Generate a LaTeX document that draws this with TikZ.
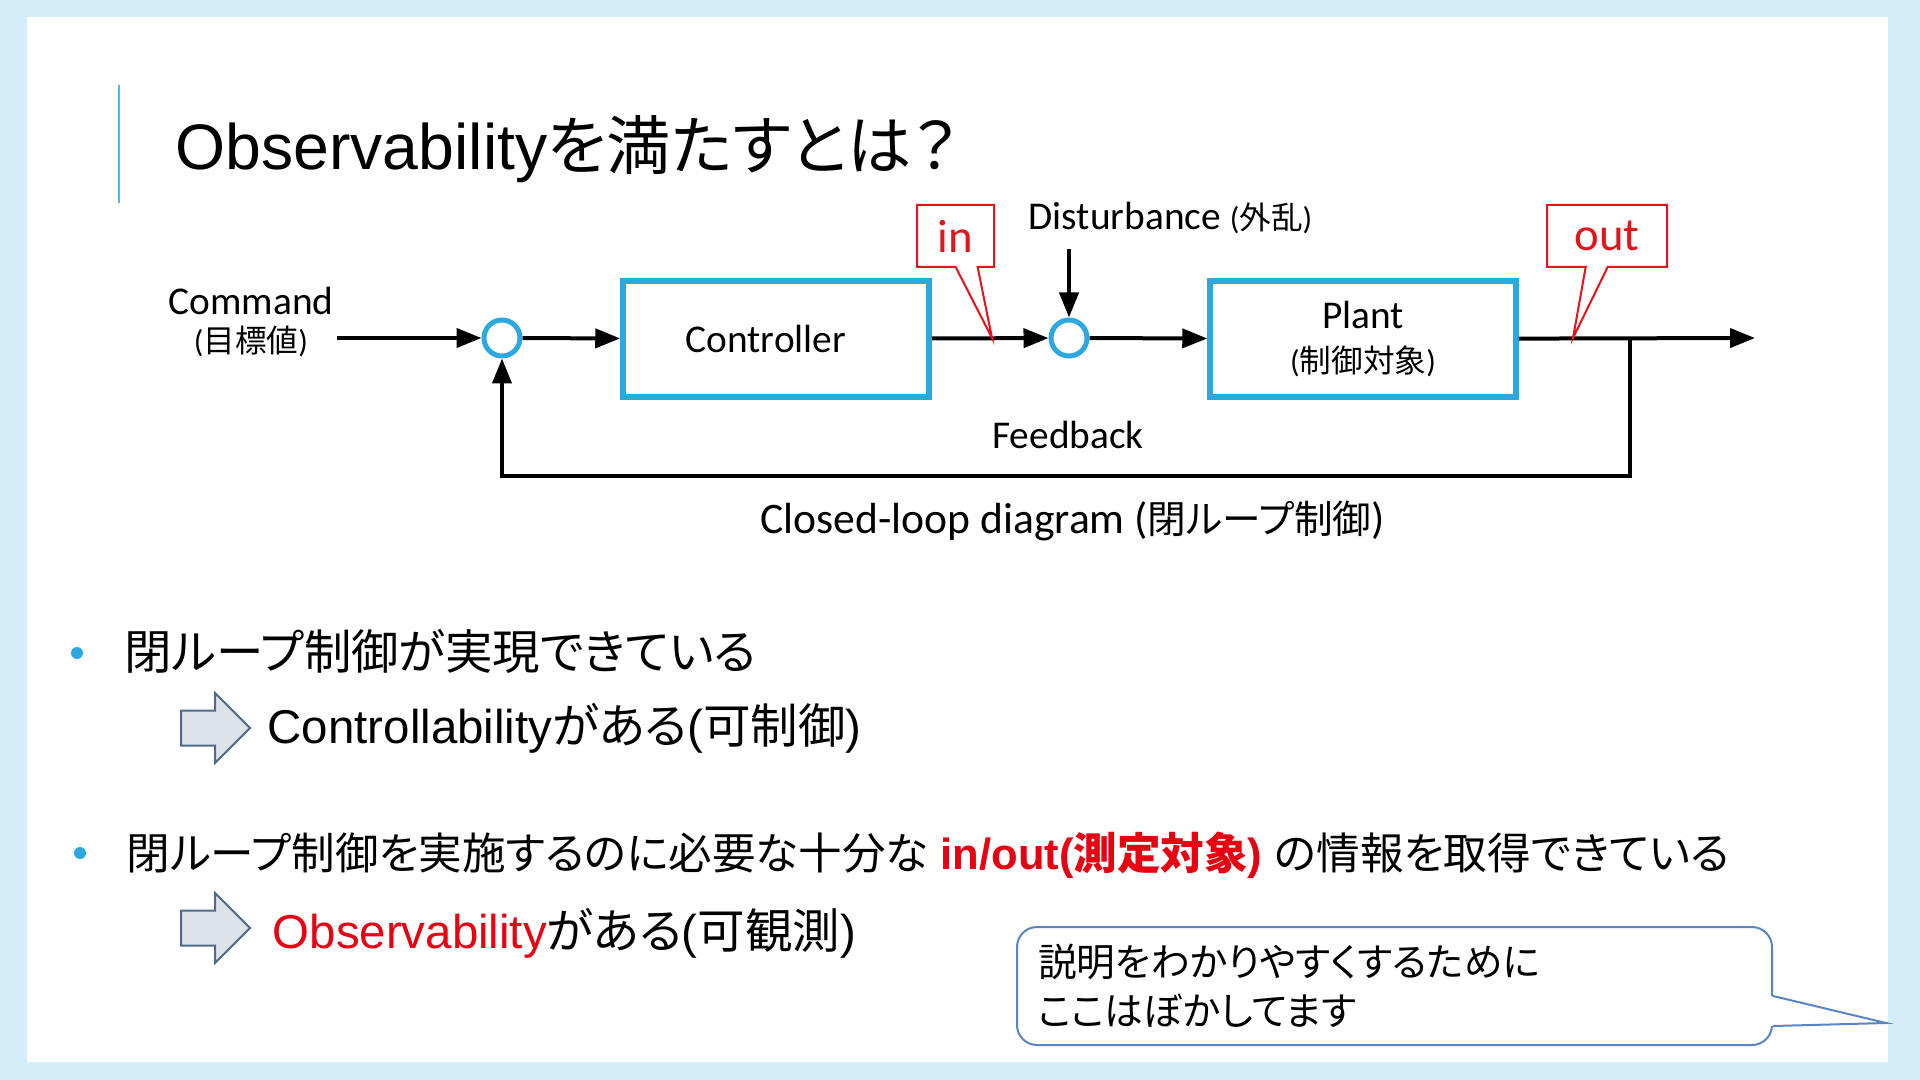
\documentclass[tikz,border=0pt]{standalone}
\usepackage{fontspec}
\setmainfont{Liberation Sans}
\newfontfamily\jpfont[RawFeature=+palt]{Noto Sans CJK JP}
\newfontfamily\calfont{Carlito}
\newcommand{\jp}[1]{{\jpfont #1}}
\newcommand{\smjp}[1]{{\fontsize{9}{10}\selectfont(\jp{#1})}}
\usetikzlibrary{positioning}
\usetikzlibrary{arrows.meta}
\usetikzlibrary{shapes.callouts}

\definecolor{slideblue}{HTML}{D4EEF9}
\definecolor{boxblue}{HTML}{2AA8DF}
\definecolor{callred}{HTML}{E3141C}
\definecolor{textred}{HTML}{E60012}
\definecolor{arrowgray}{HTML}{DDE2E8}
\definecolor{arrowedge}{HTML}{50698A}
\definecolor{noteedge}{HTML}{5A85C4}

\tikzset{
  flow/.style={draw=black, line width=0.04cm, -{Triangle[length=0.25cm,width=0.19cm]}},
  block/.style={draw=boxblue, line width=0.055cm, minimum width=3.06cm, minimum height=1.16cm,
    align=center, font={\calfont\fontsize{11.2}{12.6}\selectfont}},
  sumpt/.style={circle, draw=boxblue, line width=0.05cm, minimum size=0.36cm, inner sep=0pt},
  lbl/.style={inner sep=0pt, font={\calfont\fontsize{11.2}{10.8}\selectfont}},
  tag/.style={rectangle callout, draw=callred, line width=0.02cm, text=callred, inner sep=0pt,
    minimum height=0.62cm, callout pointer width=0.22cm, font={\calfont\fontsize{13.3}{14}\selectfont}},
  bullet/.style={circle, fill=boxblue, minimum size=0.12cm, inner sep=0pt},
  point/.style={anchor=base west, inner sep=0pt, font={\fontsize{13.5}{16}\selectfont}},
  bigarrow/.style={draw=arrowedge, fill=arrowgray, line width=0.02cm},
  note/.style={draw=noteedge, fill=white, line width=0.02cm, rounded corners=0.2cm,
    minimum width=7.55cm, minimum height=1.18cm, inner xsep=0.21cm, text width=7.13cm,
    align=left, font={\fontsize{11}{14}\selectfont}}
}

\begin{document}
\begin{tikzpicture}
  % slide
  \fill[slideblue] (0,0) rectangle (19.2,-10.8);
  \fill[white] (0.27,-0.17) rectangle (18.88,-10.62);
  \useasboundingbox (0,0) rectangle (19.2,-10.8);

  \draw[boxblue!80, line width=0.02cm] (1.19,-0.85) -- (1.19,-2.03);
  \node[anchor=base west, inner sep=0pt, font={\fontsize{18.3}{20}\selectfont}] (title)
    at (1.75,-1.70) {Observability\jp{を満たすとは？}};

  % closed loop
  \coordinate (cmdin) at (3.37,-3.38);
  \coordinate (dtop) at (10.69,-2.49);
  \coordinate (br) at (16.30,-3.38);
  \coordinate (fb) at (16.30,-4.76);
  \coordinate (yout) at (17.55,-3.38);
  \coordinate (inTip) at (9.92,-3.38);
  \coordinate (outTip) at (15.73,-3.38);

  \node[sumpt] (s1) at (5.02,-3.38) {};
  \node[block] (ctrl) at (7.76,-3.39) {Controller\hspace{0.2cm}};
  \node[sumpt] (s2) at (10.69,-3.38) {};
  \node[block] (plant) at (13.63,-3.39) {Plant\\\smjp{制御対象}};

  \node[lbl, align=center] (cmd) at (2.51,-3.22) {Command\\\smjp{目標値}};
  \node[lbl, anchor=base west] (dist) at (10.28,-2.30) {Disturbance \smjp{外乱}};
  \node[lbl, anchor=base] (fblbl) at (10.68,-4.48) {Feedback};
  \node[lbl, anchor=base west, font={\calfont\fontsize{12.4}{14}\selectfont}] (caption)
    at (7.60,-5.33) {Closed-loop diagram ({\fontsize{11}{14}\selectfont\jp{閉ループ制御}})};

  \draw[flow] (cmdin) -- (s1);
  \draw[flow] (s1) -- (ctrl);
  \draw[flow] (ctrl) -- (s2);
  \draw[flow] (dtop) -- (s2);
  \draw[flow] (s2) -- (plant);
  \draw[flow] (plant) -- (yout);
  \draw[flow] (br) -- (fb) -| (s1);

  \node[tag, minimum width=0.77cm, callout absolute pointer={(inTip)}] (inb) at (9.555,-2.36) {in};
  \node[tag, minimum width=1.20cm, callout absolute pointer={(outTip)}] (outb) at (16.07,-2.36) {out};

  % bullets
  \node[bullet] (d1) at (0.77,-6.53) {};
  \node[bullet] (d2) at (0.80,-8.53) {};
  \node[point] (b1) at (1.24,-6.69) {\jp{閉ループ制御が実現できている}};
  \node[point, font={\fontsize{12.4}{16}\selectfont}] (b2) at (1.26,-8.69) {\jp{閉ループ制御を実施するのに必要な十分な}
    \textcolor{textred}{\bfseries in/out(\jp{測定対象})} \jp{の情報を取得できている}};

  \foreach \y in {7.28,9.28}
  \draw[bigarrow] (1.81,-\y) ++(0,0.175) -- ++(0.34,0) -- ++(0,0.175) -- ++(0.35,-0.35)
    -- ++(-0.35,-0.35) -- ++(0,0.175) -- ++(-0.34,0) -- cycle;

  \node[point] (c1) at (2.67,-7.43) {Controllability\jp{がある}(\jp{可制御})};
  \node[point] (c2) at (2.72,-9.48) {\textcolor{textred}{Observability}\jp{がある}(\jp{可観測})};

  % note
  \coordinate (ptip) at (18.86,-10.23);
  \node[note] (memo) at (13.945,-9.86) {\jp{説明をわかりやすくするために}\\\jp{ここはぼかしてます}};
  \fill[white] ([xshift=-0.03cm,yshift=-0.1cm]memo.east) -- (ptip) -- ([xshift=-0.03cm,yshift=-0.4cm]memo.east) -- cycle;
  \draw[noteedge, line width=0.02cm] ([yshift=-0.1cm]memo.east) -- (ptip) -- ([yshift=-0.4cm]memo.east);

\end{tikzpicture}
\end{document}
